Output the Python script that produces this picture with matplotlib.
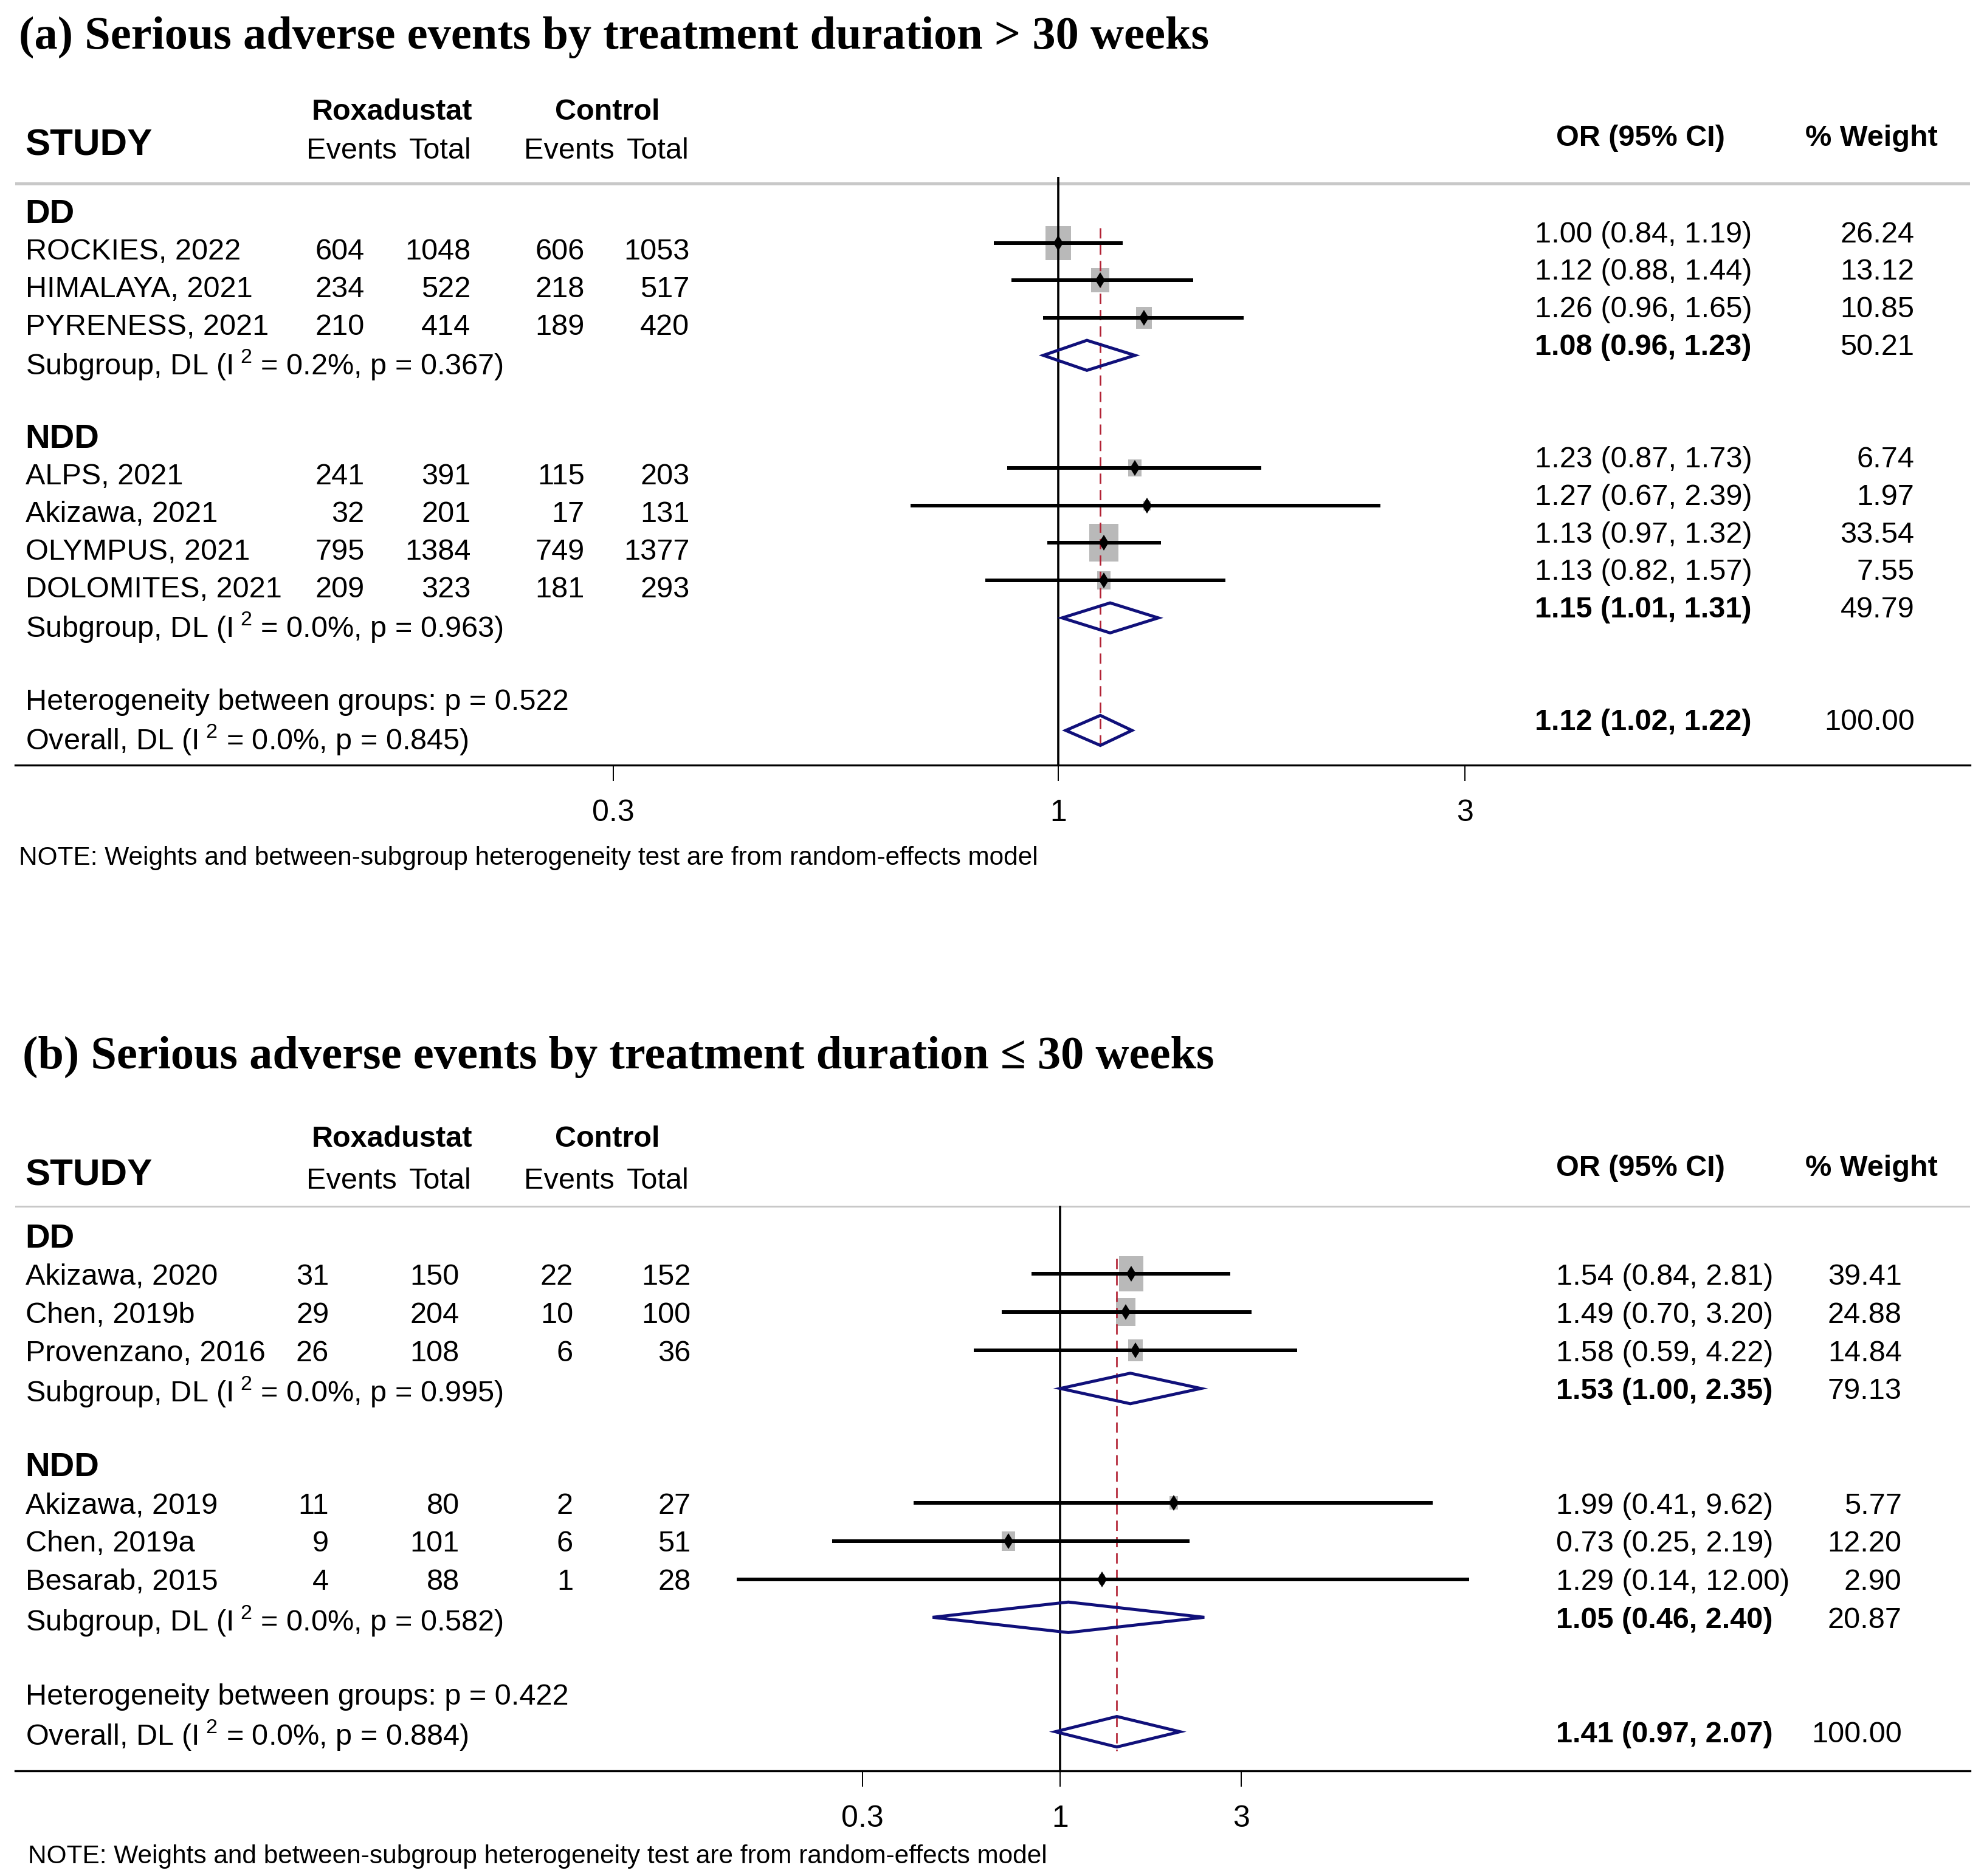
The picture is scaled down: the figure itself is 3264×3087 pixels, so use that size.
import numpy as np
import matplotlib
matplotlib.use("Agg")
import matplotlib.pyplot as plt
from matplotlib.path import Path
from matplotlib.transforms import blended_transform_factory

plt.rcParams["font.family"] = ["Liberation Sans", "DejaVu Sans"]
plt.rcParams["mathtext.fontset"] = "custom"
plt.rcParams["mathtext.rm"] = "Liberation Sans"
plt.rcParams["mathtext.it"] = "Liberation Sans"
plt.rcParams["mathtext.bf"] = "Liberation Sans:bold"

# ---------------- panel (a): treatment duration > 30 weeks ----------------
a_title = "(a) Serious adverse events by treatment duration > 30 weeks"
a_group = ["DD", "DD", "DD", "NDD", "NDD", "NDD", "NDD"]
a_study = ["ROCKIES, 2022", "HIMALAYA, 2021", "PYRENESS, 2021",
           "ALPS, 2021", "Akizawa, 2021", "OLYMPUS, 2021", "DOLOMITES, 2021"]
a_rox_events = [604, 234, 210, 241, 32, 795, 209]
a_rox_total = [1048, 522, 414, 391, 201, 1384, 323]
a_ctl_events = [606, 218, 189, 115, 17, 749, 181]
a_ctl_total = [1053, 517, 420, 203, 131, 1377, 293]
a_or = [1.00, 1.12, 1.26, 1.23, 1.27, 1.13, 1.13]
a_lo = [0.84, 0.88, 0.96, 0.87, 0.67, 0.97, 0.82]
a_hi = [1.19, 1.44, 1.65, 1.73, 2.39, 1.32, 1.57]
a_weight = [26.24, 13.12, 10.85, 6.74, 1.97, 33.54, 7.55]
a_sub_or = [1.08, 1.15]
a_sub_lo = [0.96, 1.01]
a_sub_hi = [1.23, 1.31]
a_sub_weight = [50.21, 49.79]
a_sub_i2 = [0.2, 0.0]
a_sub_p = [0.367, 0.963]
a_between_p = 0.522
a_overall = [1.12, 1.02, 1.22]
a_overall_i2 = 0.0
a_overall_p = 0.845

# ---------------- panel (b): treatment duration <= 30 weeks ----------------
b_title = "(b) Serious adverse events by treatment duration \u2264 30 weeks"
b_group = ["DD", "DD", "DD", "NDD", "NDD", "NDD"]
b_study = ["Akizawa, 2020", "Chen, 2019b", "Provenzano, 2016",
           "Akizawa, 2019", "Chen, 2019a", "Besarab, 2015"]
b_rox_events = [31, 29, 26, 11, 9, 4]
b_rox_total = [150, 204, 108, 80, 101, 88]
b_ctl_events = [22, 10, 6, 2, 6, 1]
b_ctl_total = [152, 100, 36, 27, 51, 28]
b_or = [1.54, 1.49, 1.58, 1.99, 0.73, 1.29]
b_lo = [0.84, 0.70, 0.59, 0.41, 0.25, 0.14]
b_hi = [2.81, 3.20, 4.22, 9.62, 2.19, 12.00]
b_weight = [39.41, 24.88, 14.84, 5.77, 12.20, 2.90]
b_sub_or = [1.53, 1.05]
b_sub_lo = [1.00, 0.46]
b_sub_hi = [2.35, 2.40]
b_sub_weight = [79.13, 20.87]
b_sub_i2 = [0.0, 0.0]
b_sub_p = [0.995, 0.582]
b_between_p = 0.422
b_overall = [1.41, 0.97, 2.07]
b_overall_i2 = 0.0
b_overall_p = 0.884

xticks = [0.3, 1, 3]
xtick_labels = ["0.3", "1", "3"]
note = "NOTE: Weights and between-subgroup heterogeneity test are from random-effects model"

# layout is worked out on a 1568 x 1483 grid (half of the output pixels)
W, H = 1568.0, 1483.0
X0, X1 = 12.0, 1557.0
NUDGE = 2.5          # grid px, text sits a bit low in the source
NAVY = "#10107a"
BOX = "#b9b9b9"
RED = "#b22234"

LAY_A = dict(title_x=15, title_y=27, top=140, bot=605, y0=162.3, dy=29.65,
             x_one=836.5, k=292.3, off_l=0.16, off_r=-0.30, gray=145,
             hdr1=86, hdr_study=113, hdr2=117, hdr_or=107,
             cols=[288, 372, 462, 545], or_x=1213, wt_x=1513,
             box_h=10.8, box_aspect=1.32, tick_y=640, note_x=15, note_y=676)
LAY_B = dict(title_x=18, title_y=833, top=953, bot=1400, y0=977.0, dy=30.15,
             x_one=838.0, k=130.0, off_l=0.0, off_r=0.0, gray=953,
             hdr1=898, hdr_study=927, hdr2=931, hdr_or=921,
             cols=[260, 363, 453, 546], or_x=1230, wt_x=1503,
             box_h=9.2, box_aspect=1.48, tick_y=1432, note_x=22, note_y=1465)


def het_label(prefix, i2, p):
    return f"{prefix} (I$^{{\\ 2}}$ = {i2:.1f}%, p = {p:.3f})"


def draw_panel(fig, lay, d):
    ax = fig.add_axes([X0 / W, 1 - lay["bot"] / H, (X1 - X0) / W,
                       (lay["bot"] - lay["top"]) / H])
    row = lambda Y: (Y - lay["y0"]) / lay["dy"]
    cx = lambda X: (X - X0) / (X1 - X0)
    fy = lambda Y: 1 - (Y + NUDGE) / H
    ax.set_xscale("log")
    ax.set_xlim(np.exp((X0 - lay["x_one"]) / lay["k"]), np.exp((X1 - lay["x_one"]) / lay["k"]))
    ax.set_ylim(row(lay["bot"]), row(lay["top"]))
    tr = blended_transform_factory(ax.transAxes, ax.transData)
    fs = 35
    dn = NUDGE / lay["dy"]

    # title + header
    fig.text(lay["title_x"] / W, fy(lay["title_y"]), d["title"], fontsize=55,
             fontweight="bold", family=["Liberation Serif", "DejaVu Serif"], va="center")
    fig.text(20 / W, fy(lay["hdr_study"]), "STUDY", fontsize=44.5, fontweight="bold", va="center")
    for X, s in [(310, "Roxadustat"), (480, "Control")]:
        fig.text(X / W, fy(lay["hdr1"]), s, fontsize=35, fontweight="bold", ha="center", va="center")
    for X, s in [(278, "Events"), (348, "Total"), (450, "Events"), (520, "Total")]:
        fig.text(X / W, fy(lay["hdr2"]), s, fontsize=fs, ha="center", va="center")
    fig.text(1230 / W, fy(lay["hdr_or"]), "OR (95% CI)", fontsize=35, fontweight="bold", va="center")
    fig.text(1427 / W, fy(lay["hdr_or"]), "% Weight", fontsize=35, fontweight="bold", va="center")
    ax.axhline(row(lay["gray"]), color="#c8c8c8", lw=3.6, zorder=1)

    # box marker taller than wide, as in the source plot
    hw = 0.5 / lay["box_aspect"]
    box = Path([(-hw, -0.5), (hw, -0.5), (hw, 0.5), (-hw, 0.5), (-hw, -0.5)])
    box_pt = lay["box_h"] / (100 / 72)

    def left(r, s, X=20, ha="left", **kw):
        ax.text(cx(X), r + lay["off_l"] + dn, s, transform=tr, fontsize=kw.pop("fontsize", fs),
                ha=ha, va="center", **kw)

    def right(r, s_or, s_wt, bold=False):
        ax.text(cx(lay["or_x"]), r + lay["off_r"] + dn, s_or, transform=tr, fontsize=fs,
                fontweight="bold" if bold else "normal", va="center")
        ax.text(cx(lay["wt_x"]), r + lay["off_r"] + dn, s_wt, transform=tr, fontsize=fs,
                ha="right", va="center")

    def diamond(r, est, lo, hi):
        h = 0.4
        ax.fill([lo, est, hi, est, lo], [r, r - h, r, r + h, r], facecolor="none",
                edgecolor=NAVY, lw=3.6, joinstyle="miter", zorder=4)

    r = 0
    groups = list(dict.fromkeys(d["group"]))
    for gi, g in enumerate(groups):
        left(r, g, fontsize=40.5, fontweight="bold")
        r += 1
        for i in [j for j, gg in enumerate(d["group"]) if gg == g]:
            left(r, d["study"][i])
            for X, v in zip(lay["cols"], [d["rox_ev"][i], d["rox_n"][i], d["ctl_ev"][i], d["ctl_n"][i]]):
                left(r, str(v), X=X, ha="right")
            ax.scatter([d["or"][i]], [r], s=(box_pt ** 2) * d["wt"][i], marker=box,
                       color=BOX, linewidths=0, zorder=1)
            ax.plot([d["lo"][i], d["hi"][i]], [r, r], color="black", lw=4.3,
                    solid_capstyle="butt", zorder=5)
            ax.plot([d["or"][i]], [r], marker="d", ms=13, color="black", mew=0, zorder=6)
            right(r, f"{d['or'][i]:.2f} ({d['lo'][i]:.2f}, {d['hi'][i]:.2f})", f"{d['wt'][i]:.2f}")
            r += 1
        left(r, het_label("Subgroup, DL", d["sub_i2"][gi], d["sub_p"][gi]))
        diamond(r, d["sub_or"][gi], d["sub_lo"][gi], d["sub_hi"][gi])
        right(r, f"{d['sub_or'][gi]:.2f} ({d['sub_lo'][gi]:.2f}, {d['sub_hi'][gi]:.2f})",
              f"{d['sub_wt'][gi]:.2f}", bold=True)
        r += 2
    left(r, f"Heterogeneity between groups: p = {d['between_p']:.3f}")
    r += 1
    est, lo, hi = d["overall"]
    left(r, het_label("Overall, DL", d["overall_i2"], d["overall_p"]))
    diamond(r, est, lo, hi)
    right(r, f"{est:.2f} ({lo:.2f}, {hi:.2f})", "100.00", bold=True)

    ax.axvline(1, color="black", lw=2.6, zorder=2)
    ax.vlines(est, 0.6, r + 0.5, color=RED, lw=1.9, linestyles=(0, (6.4, 3.8)), zorder=3)

    for side in ["top", "left", "right"]:
        ax.spines[side].set_visible(False)
    ax.spines["bottom"].set_linewidth(2.4)
    ax.set_yticks([])
    ax.set_xticks(xticks)
    ax.set_xticklabels(xtick_labels)
    ax.xaxis.set_minor_locator(matplotlib.ticker.NullLocator())
    ax.tick_params(axis="x", length=19, width=1.4, pad=21, labelsize=36)
    ax.patch.set_visible(False)

    fig.text(lay["note_x"] / W, fy(lay["note_y"]), note, fontsize=30.5, va="center")
    return ax


fig = plt.figure(figsize=(32.64, 30.87), dpi=100)
draw_panel(fig, LAY_A, dict(title=a_title, group=a_group, study=a_study,
                            rox_ev=a_rox_events, rox_n=a_rox_total, ctl_ev=a_ctl_events,
                            ctl_n=a_ctl_total, **{"or": a_or}, lo=a_lo, hi=a_hi, wt=a_weight,
                            sub_or=a_sub_or, sub_lo=a_sub_lo, sub_hi=a_sub_hi, sub_wt=a_sub_weight,
                            sub_i2=a_sub_i2, sub_p=a_sub_p, between_p=a_between_p,
                            overall=a_overall, overall_i2=a_overall_i2, overall_p=a_overall_p))
draw_panel(fig, LAY_B, dict(title=b_title, group=b_group, study=b_study,
                            rox_ev=b_rox_events, rox_n=b_rox_total, ctl_ev=b_ctl_events,
                            ctl_n=b_ctl_total, **{"or": b_or}, lo=b_lo, hi=b_hi, wt=b_weight,
                            sub_or=b_sub_or, sub_lo=b_sub_lo, sub_hi=b_sub_hi, sub_wt=b_sub_weight,
                            sub_i2=b_sub_i2, sub_p=b_sub_p, between_p=b_between_p,
                            overall=b_overall, overall_i2=b_overall_i2, overall_p=b_overall_p))
fig.savefig("out.png", dpi=100)
